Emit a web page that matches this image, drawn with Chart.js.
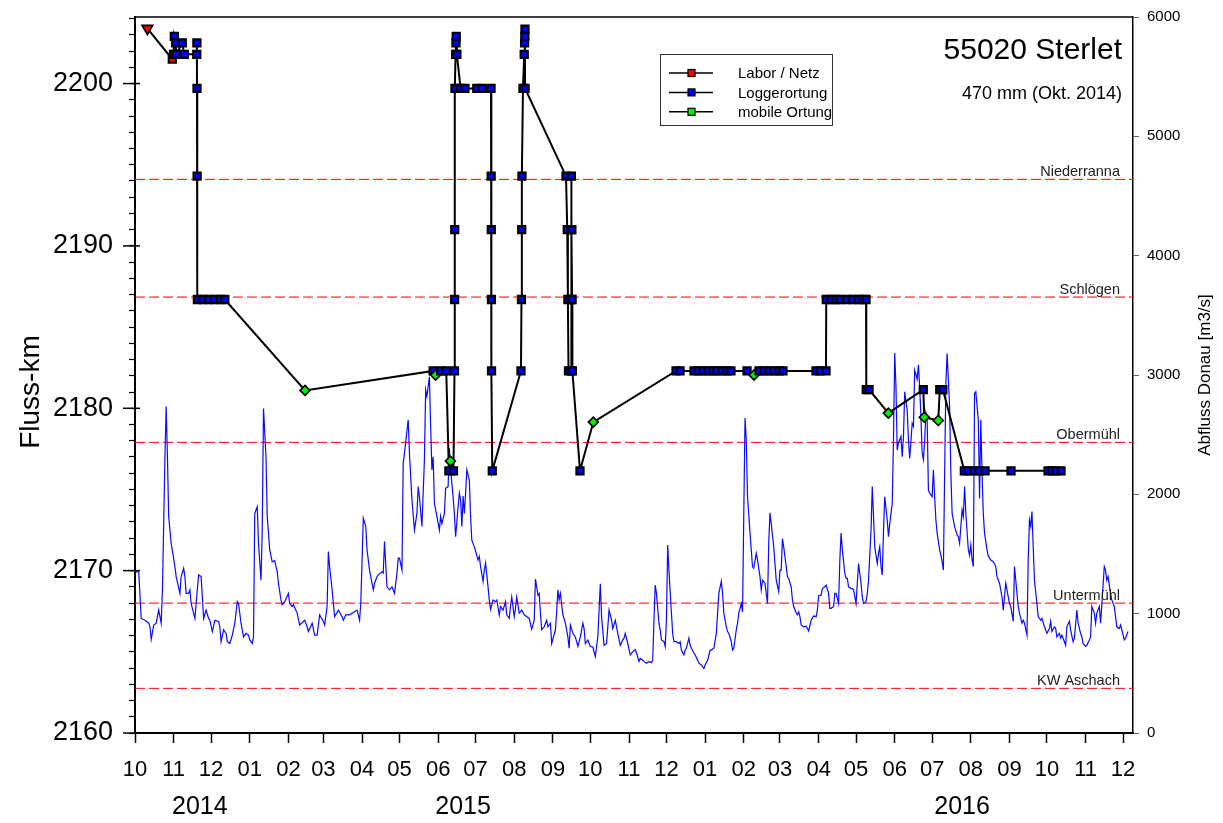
<!DOCTYPE html>
<html lang="de">
<head>
<meta charset="utf-8">
<title>55020 Sterlet</title>
<script src="https://cdn.jsdelivr.net/npm/chart.js@4.4.1/dist/chart.umd.min.js"></script>
<style>
  html, body { margin: 0; padding: 0; background: #fff; }
  #chart { display: block; }
</style>
</head>
<body>
<canvas id="chart" width="1223" height="823"></canvas>
<script>
const FONT = '"Liberation Sans", Arial, Helvetica, sans-serif';

const titel = '55020 Sterlet';
const untertitel = '470 mm (Okt. 2014)';

// Achsenbereiche
const kmMin = 2160;
const kmMax = 2204.1;
const qMax = 6000;

// Zeitachse in Tagen ab 1.10.2014
const startDatum = Date.UTC(2014, 9, 1);
const tagMax = 800;

const jahre = ['2014', '2015', '2016'];
const jahrTag = [52, 263, 663];

// Empfängerstationen (Fluss-km)
const stationen = ['Niederranna', 'Schlögen', 'Obermühl', 'Untermühl', 'KW Aschach'];
const stationKm = [2194.1, 2186.85, 2177.9, 2168.0, 2162.75];

// Abfluss Donau [m3/s]
const abflussTag = [
  0,3,5,8,11,12,13,15,17,19,21,22,24,25,26,27,29,32,33,36,
  37,39,40,41,43,44,45,48,49,51,53,54,55,57,59,60,62,64,67,68,
  69,71,73,74,76,78,80,82,83,85,87,89,91,92,94,95,96,98,99,101,
  102,103,105,106,108,110,112,114,115,117,118,120,123,124,126,127,130,132,136,138,
  139,142,144,146,148,151,152,154,155,156,158,160,163,166,167,169,172,175,178,180,
  181,183,185,186,188,191,192,194,195,198,199,
  200,202,204,206,208,210,211,212,214,215,216,219,220,222,224,226,227,228,230,232,
  233,234,236,237,238,239,240,242,244,245,246,248,249,251,252,253,255,256,257,259,
  260,261,262,263,264,265,266,268,269,270,272,275,276,277,279,280,281,283,284,285,
  287,289,290,292,293,295,297,298,300,301,302,304,305,306,308,310,312,314,316,318,
  320,321,323,324,325,326,328,330,331,333,334,337,338,339,340,341,343,345,347,348,
  349,351,353,355,357,359,360,361,363,365,367,369,370,371,373,374,376,378,380,382,
  383,385,386,387,389,391,392,393,395,397,398,
  401,402,404,405,407,408,410,412,414,415,416,417,418,420,421,422,424,425,426,427,
  428,430,431,432,434,436,437,438,440,441,442,444,445,446,448,449,451,452,454,456,
  457,459,461,462,464,466,468,470,471,472,474,475,476,478,479,480,482,483,484,486,
  487,488,489,490,491,493,495,496,498,499,501,502,503,505,506,507,508,509,510,512,
  513,514,516,517,518,519,520,522,523,524,526,527,528,530,531,532,533,534,536,538,
  539,540,542,544,546,547,548,550,551,553,554,556,557,558,560,561,562,564,565,566,
  567,569,570,571,572,574,575,576,578,579,580,582,583,584,586,587,588,590,591,592,
  593,595,596,597,598,599,600,
  601,603,604,605,607,608,609,610,611,612,614,615,616,617,619,620,621,623,624,625,
  627,628,629,630,631,632,633,634,635,636,637,639,640,641,642,643,645,646,647,648,
  649,650,651,653,654,655,657,659,660,661,663,664,665,666,668,669,670,671,672,673,
  674,676,677,678,679,680,681,683,684,686,688,690,691,693,695,696,698,700,701,702,
  704,705,707,708,709,711,712,713,715,716,717,718,719,720,721,723,724,726,727,729,
  730,731,733,734,735,737,738,739,741,742,743,745,746,747,749,750,752,753,755,756,
  758,759,760,762,763,765,766,767,769,770,771,773,774,775,777,778,779,780,782,783,
  785,786,787,789,790,791,793,794,796
];
const abflussQ = [
  1350,1350,960,945,920,890,785,905,920,1030,920,1200,2315,2735,2315,1815,1590,1395,1310,1170,
  1310,1380,1310,1170,1170,1200,1085,960,1085,1325,1310,1140,960,1030,960,945,850,945,935,890,
  765,865,835,765,750,820,920,1100,1085,920,805,835,820,780,750,805,1840,1895,1590,1280,
  1700,2720,2315,1815,1535,1435,1445,1350,1255,1115,1075,1100,1170,1085,1060,1075,1005,905,945,890,
  850,920,820,820,990,935,905,1060,1520,1395,1200,975,1030,975,945,990,990,1010,1030,945,
  1085,1800,1730,1535,1365,1200,1255,1310,1325,1350,1340,
  1605,1225,1200,1225,1170,1340,1465,1465,1365,2260,2345,2625,2345,1955,1700,1840,2065,1980,1730,2290,
  2875,2820,2985,2565,2205,2315,1925,1815,1700,1815,1755,1840,2050,2065,2385,2205,1980,1840,1645,1895,
  2010,1955,1730,1985,1840,2010,2205,2120,1815,1615,1560,1450,1480,1395,1270,1365,1425,1225,1115,1035,
  1115,1100,1115,990,1060,1030,1100,990,960,1060,1140,975,1045,1140,1005,1030,990,975,960,870,
  945,1290,1155,1170,1005,865,890,945,890,920,750,865,1015,1200,1115,1170,990,920,805,710,
  905,835,805,725,805,920,875,750,780,725,720,640,725,805,1250,975,735,750,1030,945,
  875,945,890,835,735,780,795,835,750,655,670,
  700,670,600,625,610,600,585,600,590,610,945,1240,1170,920,865,780,765,725,945,1575,
  1365,1005,835,765,765,750,765,695,655,695,710,795,735,710,670,655,610,585,570,540,
  570,610,695,695,710,835,1170,1270,1170,1005,890,850,835,765,695,710,865,920,1005,1085,
  1015,1840,2640,2455,1980,1675,1395,1380,1505,1450,1310,1200,1280,1255,1170,1085,1590,1845,1755,1560,
  1420,1280,1185,1365,1365,1630,1560,1395,1310,1295,1225,1115,1060,1005,990,1015,975,905,890,895,
  875,855,945,980,975,1030,1150,1155,1210,1225,1240,1170,1045,1045,1060,1170,1170,1085,1450,1675,
  1535,1340,1295,1295,1225,1210,1210,1200,1085,1255,1420,1255,1140,1085,1100,1170,1280,1700,2065,1815,
  1560,1420,1505,1560,1395,1325,1700,
  1980,1785,1645,1755,1925,2455,3185,2900,2370,2430,2485,2315,2485,2860,2705,2455,2300,2595,2570,3040,
  2965,3085,2900,2650,2345,2290,2455,2680,2625,2035,2010,1980,2205,1980,1785,1675,1535,1490,1435,1365,
  2175,2930,3180,2735,2175,1840,1730,1660,1645,1590,1870,1815,2065,1840,1535,1490,1575,1450,1395,2845,
  2860,2625,1965,2625,2175,1840,1675,1535,1480,1450,1435,1395,1310,1255,1140,1030,1255,1140,1085,1060,
  935,1395,1170,1060,1005,920,945,920,820,1450,1785,1730,1855,1560,1280,1085,975,945,960,890,
  865,835,875,935,850,890,875,805,835,795,820,765,735,890,935,865,765,795,1030,920,
  835,805,750,725,735,780,805,1060,1005,920,1005,1060,920,1075,1395,1365,1280,1310,1170,1115,
  1060,975,890,875,905,865,780,795,850
];

// Ortungen: Tag, Fluss-km, Art (B = Besatz, L = Labor / Netz, G = Loggerortung, M = mobile Ortung)
const ortTag = [
  9.9, 29.9, 30.9, 31.5, 32.6, 33.0, 37.9, 39.5, 49.5, 49.6, 49.7, 49.8, 50.0, 54.5, 59.0, 63.5, 68.5, 72.0,
  136.3,
  239.0, 241.0, 245.0, 249.5, 251.6, 252.8, 255.3, 256.1, 256.2, 256.3, 256.5, 257.0, 257.3, 257.5, 258.0,
  261.0, 264.5, 274.0, 278.2, 285.4, 285.5, 285.6, 285.7, 285.8, 286.4,
  309.4, 309.8, 310.0, 310.2, 311.0, 312.0, 312.3, 312.5, 312.6, 312.7,
  345.5, 346.5, 347.0, 347.5, 349.5, 349.6, 349.7, 349.8, 350.2, 350.4, 350.6, 356.7,
  367.4,
  433.7, 436.9, 448.1, 451.3, 455.3, 459.3, 463.3, 466.5, 470.5, 474.5, 477.7, 490.6, 496.2, 500.2,
  504.2, 508.2, 512.2, 516.2, 519.4, 545.9, 549.1, 553.9,
  554.1, 557.9, 561.9, 565.1, 570.7, 575.5, 579.6, 583.6, 586.0, 586.2, 588.4,
  603.9, 631.9, 632.7, 643.9, 645.1, 647.6,
  664.8, 667.7, 672.5, 676.5, 681.4, 702.2, 731.9, 735.1, 738.3, 742.3
];
const ortKm = [
  2203.4, 2201.5, 2201.8, 2202.9, 2202.5, 2201.8, 2202.5, 2201.8, 2201.8, 2202.5, 2199.7, 2194.3, 2186.7, 2186.7, 2186.7, 2186.7, 2186.7, 2186.7,
  2181.1,
  2182.3, 2182.05, 2182.3, 2182.3, 2176.15, 2176.75, 2176.15, 2182.3, 2186.7, 2191.0, 2199.7, 2201.8, 2202.5, 2202.9, 2201.8,
  2199.7, 2199.7, 2199.7, 2199.7, 2199.7, 2194.3, 2191.0, 2186.7, 2182.3, 2176.15,
  2182.3, 2186.7, 2191.0, 2194.3, 2199.7, 2201.8, 2202.5, 2202.9, 2203.35, 2199.7,
  2194.3, 2191.0, 2186.7, 2182.3, 2182.3, 2186.7, 2191.0, 2194.3, 2191.0, 2186.7, 2182.3, 2176.15,
  2179.15,
  2182.3, 2182.3, 2182.3, 2182.3, 2182.3, 2182.3, 2182.3, 2182.3, 2182.3, 2182.3, 2182.3, 2182.3, 2182.05, 2182.3,
  2182.3, 2182.3, 2182.3, 2182.3, 2182.3, 2182.3, 2182.3, 2182.3,
  2186.7, 2186.7, 2186.7, 2186.7, 2186.7, 2186.7, 2186.7, 2186.7, 2186.7, 2181.15, 2181.15,
  2179.7, 2181.15, 2179.45, 2179.25, 2181.15, 2181.15,
  2176.15, 2176.15, 2176.15, 2176.15, 2176.15, 2176.15, 2176.15, 2176.15, 2176.15, 2176.15
];
const ortArt = [
  'B','L','G','G','G','G','G','G','G','G','G','G','G','G','G','G','G','G',
  'M',
  'G','M','G','G','G','M','G','G','G','G','G','G','G','G','G',
  'G','G','G','G','G','G','G','G','G','G',
  'G','G','G','G','G','G','G','G','G','G',
  'G','G','G','G','G','G','G','G','G','G','G','G',
  'M',
  'G','G','G','G','G','G','G','G','G','G','G','G','M','G',
  'G','G','G','G','G','G','G','G',
  'G','G','G','G','G','G','G','G','G','G','G',
  'M','G','M','M','G','G',
  'G','G','G','G','G','G','G','G','G','G'
];

const legendeText = ['Labor / Netz', 'Loggerortung', 'mobile Ortung'];
const legendeFarbe = ['#ff0000', '#0000ff', '#00ee00'];

// Darstellung je Ortungsart
const STIL = {
  B: { style: 'triangle', radius: 6, rot: 180, fill: '#ff0000', bw: 1.8 },
  L: { style: 'rect', radius: 5, rot: 0, fill: '#ff0000', bw: 2.2 },
  G: { style: 'rect', radius: 5, rot: 0, fill: '#0000ff', bw: 2.2 },
  M: { style: 'rectRot', radius: 5, rot: 0, fill: '#00ee00', bw: 1.6 }
};
const stil = ctx => STIL[ortArt[ctx.dataIndex]] || STIL.G;

// Monatsanfänge als Teilstriche
const monatTicks = [];
for (let m = 0; ; m++) {
  const d = Date.UTC(2014, 9 + m, 1);
  const tag = Math.round((d - startDatum) / 86400000);
  if (tag > tagMax) break;
  monatTicks.push({ value: tag, label: String(new Date(d).getUTCMonth() + 1).padStart(2, '0') });
}

// feste Achsenbreiten, ohne Zusatzabstand für überstehende Beschriftungen
const festeBreite = w => s => { s.width = w; s.paddingTop = 0; s.paddingBottom = 0; };
const festeHoehe = h => s => { s.height = h; s.paddingLeft = 0; s.paddingRight = 0; };

const beschriftung = {
  id: 'beschriftung',
  beforeDatasetsDraw(chart) {
    const { ctx, chartArea: a, scales: { y } } = chart;
    ctx.save();
    ctx.strokeStyle = '#ff0000';
    ctx.lineWidth = 1;
    ctx.setLineDash([10, 4]);
    stationKm.forEach(km => {
      const py = y.getPixelForValue(km);
      ctx.beginPath();
      ctx.moveTo(a.left, py);
      ctx.lineTo(a.right, py);
      ctx.stroke();
    });
    ctx.restore();
  },
  afterDraw(chart) {
    const { ctx, chartArea: a, scales: { y } } = chart;
    ctx.save();

    // Rahmen oben
    ctx.strokeStyle = '#000';
    ctx.lineWidth = 1.5;
    ctx.beginPath();
    ctx.moveTo(a.left, a.top);
    ctx.lineTo(a.right, a.top);
    ctx.stroke();

    // lange Teilstriche alle 10 km
    y.ticks.forEach(t => {
      if (t.value % 10 !== 0) return;
      const py = y.getPixelForValue(t.value);
      ctx.beginPath();
      ctx.moveTo(a.left - 12, py);
      ctx.lineTo(a.left + 5, py);
      ctx.stroke();
    });

    // Stationsnamen
    ctx.fillStyle = '#222';
    ctx.font = `14.5px ${FONT}`;
    ctx.textAlign = 'right';
    ctx.textBaseline = 'alphabetic';
    stationen.forEach((name, i) => {
      ctx.fillText(name, a.right - 13, y.getPixelForValue(stationKm[i]) - 3);
    });

    // Titel
    ctx.fillStyle = '#000';
    ctx.font = `30px ${FONT}`;
    ctx.fillText(titel, a.right - 11, 59);
    ctx.font = `18px ${FONT}`;
    ctx.fillText(untertitel, a.right - 11, 99);

    // Achsentitel
    ctx.textAlign = 'center';
    ctx.textBaseline = 'middle';
    ctx.save();
    ctx.translate(31, 392);
    ctx.rotate(-Math.PI / 2);
    ctx.font = `28px ${FONT}`;
    ctx.fillText('Fluss-km', 0, 0);
    ctx.restore();
    ctx.save();
    ctx.translate(1205, 375);
    ctx.rotate(-Math.PI / 2);
    ctx.font = `17px ${FONT}`;
    ctx.fillText('Abfluss Donau [m3/s]', 0, 0);
    ctx.restore();

    // Legende
    const lx = 660.5, ly = 54.5, lw = 172, lh = 71;
    ctx.fillStyle = '#fff';
    ctx.fillRect(lx, ly, lw, lh);
    ctx.strokeStyle = '#333';
    ctx.lineWidth = 1;
    ctx.strokeRect(lx, ly, lw, lh);
    ctx.font = `15px ${FONT}`;
    ctx.textAlign = 'left';
    ctx.textBaseline = 'middle';
    legendeText.forEach((txt, i) => {
      const ry = 73 + i * 19.4;
      ctx.strokeStyle = '#000';
      ctx.lineWidth = 1.5;
      ctx.beginPath();
      ctx.moveTo(669, ry);
      ctx.lineTo(713, ry);
      ctx.stroke();
      ctx.fillStyle = legendeFarbe[i];
      ctx.fillRect(688, ry - 3.5, 7, 7);
      ctx.lineWidth = 1.2;
      ctx.strokeRect(688, ry - 3.5, 7, 7);
      ctx.fillStyle = '#000';
      ctx.fillText(txt, 738, ry + 1);
    });

    ctx.restore();
  }
};

new Chart(document.getElementById('chart'), {
  type: 'line',
  data: {
    datasets: [
      {
        label: 'Abfluss Donau',
        data: abflussTag.map((t, i) => ({ x: t, y: abflussQ[i] })),
        xAxisID: 'x',
        yAxisID: 'q',
        borderColor: '#0a0aff',
        borderWidth: 1.2,
        pointRadius: 0,
        tension: 0,
        order: 2
      },
      {
        label: 'Ortungen',
        data: ortTag.map((t, i) => ({ x: t, y: ortKm[i] })),
        xAxisID: 'x',
        yAxisID: 'y',
        borderColor: '#000',
        borderWidth: 2,
        tension: 0,
        order: 1,
        pointStyle: ctx => stil(ctx).style,
        pointRotation: ctx => stil(ctx).rot,
        pointRadius: ctx => stil(ctx).radius,
        pointBackgroundColor: ctx => stil(ctx).fill,
        pointBorderColor: '#000',
        pointBorderWidth: ctx => stil(ctx).bw
      }
    ]
  },
  options: {
    responsive: false,
    devicePixelRatio: 1,
    animation: false,
    layout: { padding: { top: 17, left: 0, right: 0, bottom: 0 }, autoPadding: false },
    plugins: {
      legend: { display: false },
      tooltip: { enabled: false }
    },
    scales: {
      x: {
        type: 'linear',
        position: 'bottom',
        min: 0,
        max: tagMax,
        afterBuildTicks: s => { s.ticks = monatTicks.map(t => ({ value: t.value })); },
        afterFit: festeHoehe(55),
        ticks: {
          autoSkip: false,
          maxRotation: 0,
          padding: 14,
          color: '#000',
          font: { family: FONT, size: 22 },
          callback: (v, i) => monatTicks[i] ? monatTicks[i].label : ''
        },
        grid: { drawOnChartArea: false, tickLength: 10, tickColor: '#000', tickWidth: 1.5 },
        border: { color: '#000', width: 2 }
      },
      x2: {
        type: 'linear',
        position: 'bottom',
        min: 0,
        max: tagMax,
        afterBuildTicks: s => { s.ticks = jahrTag.map(v => ({ value: v })); },
        afterFit: festeHoehe(35),
        ticks: {
          autoSkip: false,
          maxRotation: 0,
          padding: 4,
          color: '#000',
          font: { family: FONT, size: 25 },
          callback: (v, i) => jahre[i]
        },
        grid: { display: false, drawTicks: false, tickLength: 0 },
        border: { display: false }
      },
      y: {
        type: 'linear',
        position: 'left',
        min: kmMin,
        max: kmMax,
        afterBuildTicks: s => {
          s.ticks = [];
          for (let v = kmMin; v <= kmMax; v++) s.ticks.push({ value: v });
        },
        afterFit: festeBreite(135),
        ticks: {
          autoSkip: false,
          padding: 16,
          color: '#000',
          font: { family: FONT, size: 27 },
          callback: v => (v % 10 === 0 ? String(v) : '')
        },
        grid: { drawOnChartArea: false, tickLength: 6, tickColor: '#000', tickWidth: 1.2 },
        border: { color: '#000', width: 2 }
      },
      q: {
        type: 'linear',
        position: 'right',
        min: 0,
        max: qMax,
        afterFit: festeBreite(90),
        ticks: {
          stepSize: 1000,
          padding: 8,
          color: '#000',
          font: { family: FONT, size: 15 },
          callback: v => String(v)
        },
        grid: { drawOnChartArea: false, tickLength: 6, tickColor: '#666', tickWidth: 1 },
        border: { color: '#000', width: 1.5 }
      }
    }
  },
  plugins: [beschriftung]
});
</script>
</body>
</html>
